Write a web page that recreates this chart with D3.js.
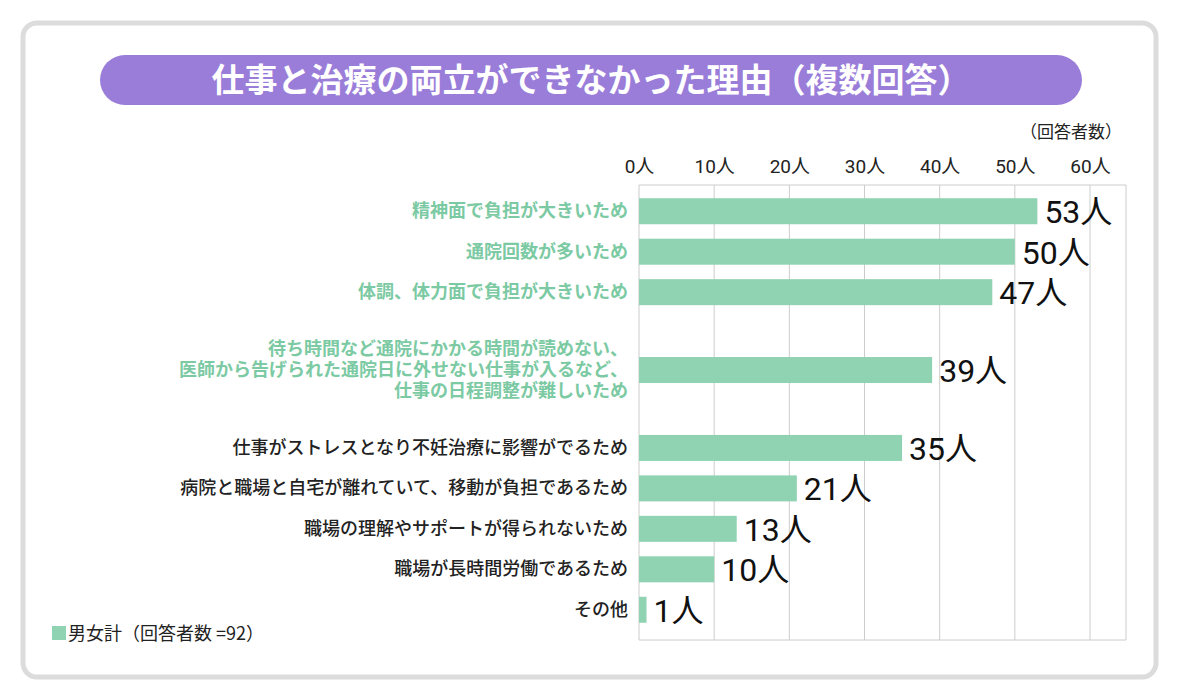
<!DOCTYPE html>
<html><head><meta charset="utf-8">
<script src="https://cdn.jsdelivr.net/npm/d3@7"></script>
<style>body{margin:0;background:#fff;font-family:"Noto Sans CJK JP",sans-serif;}</style>
</head><body><svg id="c" width="1179" height="700"></svg>
<script>
const labels = [
  ["精神面で負担が大きいため"],
  ["通院回数が多いため"],
  ["体調、体力面で負担が大きいため"],
  ["待ち時間など通院にかかる時間が読めない、","医師から告げられた通院日に外せない仕事が入るなど、","仕事の日程調整が難しいため"],
  ["仕事がストレスとなり不妊治療に影響がでるため"],
  ["病院と職場と自宅が離れていて、移動が負担であるため"],
  ["職場の理解やサポートが得られないため"],
  ["職場が長時間労働であるため"],
  ["その他"]
];
const values = [53, 50, 47, 39, 35, 21, 13, 10, 1];
const highlighted = [true, true, true, true, false, false, false, false, false];
const ticks = [0, 10, 20, 30, 40, 50, 60];

const svg = d3.select("#c");
const green = "#8fd3b3", labelGreen = "#7ccaa3";

svg.append("rect").attr("x", 23).attr("y", 23).attr("width", 1133).attr("height", 654)
  .attr("rx", 14).attr("fill", "#fff").attr("stroke", "#dcdcdc").attr("stroke-width", 5);

svg.append("rect").attr("x", 100).attr("y", 55).attr("width", 982).attr("height", 50)
  .attr("rx", 25).attr("fill", "#9a7dd9");
svg.append("text").attr("x", 591).attr("y", 92).attr("text-anchor", "middle")
  .attr("fill", "#fff").attr("font-size", 33).attr("font-weight", 700)
  .text("仕事と治療の両立ができなかった理由（複数回答）");

const x = d3.scaleLinear().domain([0, 60]).range([639, 1090]);
const plotTop = 185, plotBottom = 640, plotRight = 1126;

// row offsets: 3-line label gets a taller row
const weights = labels.map(l => l.length > 1 ? 2.85 : 1);
const total = d3.sum(weights);
const yUnit = d3.scaleLinear().domain([0, total]).range([191, 630]);
let acc = 0;
const centers = weights.map(w => { const c = acc + w / 2; acc += w; return yUnit(c); });

const g = svg.append("g");
g.selectAll("line.grid").data(ticks).join("line")
  .attr("x1", d => x(d)).attr("x2", d => x(d)).attr("y1", plotTop).attr("y2", plotBottom)
  .attr("stroke", "#ccc").attr("stroke-width", 1);
g.append("line").attr("x1", x(0)).attr("x2", plotRight).attr("y1", plotTop).attr("y2", plotTop)
  .attr("stroke", "#ccc");
g.append("line").attr("x1", x(0)).attr("x2", plotRight).attr("y1", plotBottom).attr("y2", plotBottom)
  .attr("stroke", "#ccc");
g.append("line").attr("x1", plotRight).attr("x2", plotRight).attr("y1", plotTop).attr("y2", plotBottom)
  .attr("stroke", "#ccc");

const axis = d3.axisTop(x).tickValues(ticks).tickSize(0).tickPadding(12).tickFormat(d => d + "人");
const ax = svg.append("g").attr("transform", `translate(0,${plotTop})`).call(axis);
ax.select(".domain").remove();
ax.selectAll("text").attr("font-size", 19).attr("fill", "#222").attr("font-family", "Roboto, 'Noto Sans CJK JP'");

svg.append("text").attr("x", 1122).attr("y", 138).attr("text-anchor", "end")
  .attr("font-size", 17).attr("fill", "#222").text("（回答者数）");

const bh = 26;
g.selectAll("rect.bar").data(values).join("rect")
  .attr("x", x(0)).attr("y", (d, i) => centers[i] - bh / 2)
  .attr("width", d => x(d) - x(0)).attr("height", bh).attr("fill", green);

g.selectAll("text.val").data(values).join("text")
  .attr("x", d => x(d) + 7).attr("y", (d, i) => centers[i] + 12)
  .attr("font-size", 32).attr("fill", "#111").attr("font-family", "Roboto, 'Noto Sans CJK JP'")
  .text(d => d + "人");

labels.forEach((lines, i) => {
  const t = svg.append("text").attr("text-anchor", "end")
    .attr("font-size", 18).attr("font-weight", highlighted[i] ? 700 : 500)
    .attr("fill", highlighted[i] ? labelGreen : "#222");
  const lh = 21;
  lines.forEach((s, j) => {
    t.append("tspan").attr("x", 628)
      .attr("y", centers[i] + 6 + (j - (lines.length - 1) / 2) * lh).text(s);
  });
});

svg.append("rect").attr("x", 52).attr("y", 626).attr("width", 14).attr("height", 14).attr("fill", green);
svg.append("text").attr("x", 68).attr("y", 640).attr("font-size", 18).attr("fill", "#222")
  .text("男女計（回答者数 =92）");
</script></body></html>
